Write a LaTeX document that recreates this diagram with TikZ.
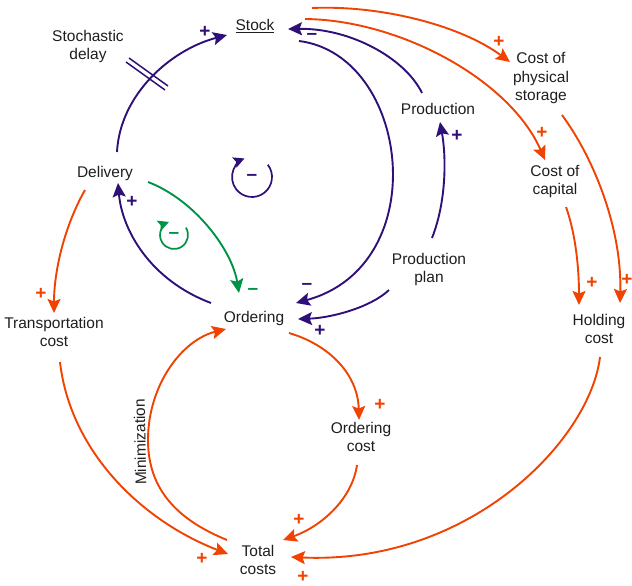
\documentclass[tikz,border=0pt]{standalone}
\usepackage{fontspec}
\setmainfont{Liberation Sans}
\usetikzlibrary{arrows.meta,calc}
\definecolor{pur}{RGB}{46,16,120}
\definecolor{org}{RGB}{240,66,0}
\definecolor{grn}{RGB}{0,146,69}
\definecolor{txt}{RGB}{30,30,30}
\begin{document}
\begin{tikzpicture}[x=1pt,y=-1pt,
  lbl/.style={font=\fontsize{15.5}{18}\selectfont, align=center, text=txt, inner sep=0pt},
  sgn/.style={font=\fontsize{19}{19}\selectfont\bfseries, inner sep=0pt},
  conn/.style={line width=1.9pt, -{Stealth[length=14pt,width=13pt,inset=2.5pt]}},
  pconn/.style={conn, pur},
  oconn/.style={conn, org},
  gconn/.style={conn, grn},
  loopar/.style={line width=1.7pt, -{Stealth[length=11pt,width=11pt,inset=2pt]}}
]
\useasboundingbox (0,0) rectangle (632,586);

% nodes
\node[lbl] (stock) at (255,26) {\underline{Stock}};
\node[lbl] (delay) at (88,46) {Stochastic\\delay};
\node[lbl] (delivery) at (105,173) {Delivery};
\node[lbl] (production) at (438,109) {Production};
\node[lbl] (plan) at (429,269) {Production\\plan};
\node[lbl] (ordering) at (254,318) {Ordering};
\node[lbl] (transport) at (54,332) {Transportation\\cost};
\node[lbl] (storage) at (541,78) {Cost of\\physical\\storage};
\node[lbl] (capital) at (555,181) {Cost of\\capital};
\node[lbl] (holding) at (599,329) {Holding\\cost};
\node[lbl] (ocost) at (361,437) {Ordering\\cost};
\node[lbl] (total) at (258,560) {Total\\costs};
\node[lbl, rotate=91] (minim) at (140,442) {Minimization};

% purple connectors
\draw[pconn] ($(delivery)+(12,-21)$) .. controls (120,95) and (170,50) .. ($(stock)+(-28,9)$);
\draw[pur, line width=1.5pt] (129,58) -- (168,86);
\draw[pur, line width=1.5pt] (126,62) -- (165,90);
\draw[pconn] ($(production)+(-16,-16)$) .. controls (405,58) and (350,28) .. ($(stock)+(33,3)$);
\draw[pconn] ($(stock)+(44,15)$) .. controls (410,55) and (435,265) .. ($(ordering)+(42,-15)$);
\draw[pconn] ($(plan)+(3,-31)$) .. controls (447,200) and (446,155) .. ($(production)+(2,13)$);
\draw[pconn] ($(plan)+(-40,21)$) .. controls (370,308) and (330,318) .. ($(ordering)+(44,1)$);
\draw[pconn] ($(ordering)+(-43,-15)$) .. controls (150,280) and (122,230) .. ($(delivery)+(13,10)$);

% green connector
\draw[gconn] ($(delivery)+(43,9)$) .. controls (195,200) and (232,250) .. ($(ordering)+(-15,-25)$);

% orange connectors
\draw[oconn] ($(stock)+(57,-18)$) .. controls (380,5) and (460,25) .. ($(storage)+(-31,-16)$);
\draw[oconn] ($(stock)+(50,-7)$) .. controls (400,20) and (510,80) .. ($(capital)+(-10,-21)$);
\draw[oconn] ($(storage)+(21,37)$) .. controls (595,160) and (622,230) .. ($(holding)+(21,-26)$);
\draw[oconn] ($(capital)+(11,26)$) .. controls (576,235) and (579,270) .. ($(holding)+(-20,-24)$);
\draw[oconn] ($(delivery)+(-20,17)$) .. controls (65,225) and (54,270) .. ($(transport)+(0,-19)$);
\draw[oconn] ($(transport)+(6,30)$) .. controls (70,450) and (140,520) .. ($(total)+(-30,-6)$);
\draw[oconn] ($(ordering)+(35,15)$) .. controls (330,345) and (358,375) .. ($(ocost)+(-2,-17)$);
\draw[oconn] ($(ocost)+(-4,28)$) .. controls (352,500) and (320,527) .. ($(total)+(25,-20)$);
\draw[oconn] ($(holding)+(1,28)$) .. controls (590,440) and (470,565) .. ($(total)+(33,-3)$);
\draw[oconn] ($(total)+(-31,-20)$) .. controls (178,520) and (148,490) .. (148,440)
   .. controls (148,385) and (182,340) .. ($(ordering)+(-28,11)$);

% loop markers
\node[sgn, pur] (ploop) at (252,177) {--};
\draw[loopar, pur] ($(ploop)+(-38:20)$) arc[start angle=-38, end angle=248, radius=20];
\node[sgn, grn] (gloop) at (174,235) {--};
\draw[loopar, grn] ($(gloop)+(-32:14)$) arc[start angle=-32, end angle=249, radius=14];

% polarity signs
\node[sgn, pur] (s1) at (205,32) {+};
\node[sgn, pur] (s2) at (312,36) {--};
\node[sgn, pur] (s3) at (307,286) {--};
\node[sgn, pur] (s4) at (457,136) {+};
\node[sgn, pur] (s5) at (320,331) {+};
\node[sgn, pur] (s6) at (132,202) {+};
\node[sgn, grn] (s7) at (253,291) {--};
\node[sgn, org] (s8) at (499,42) {+};
\node[sgn, org] (s9) at (542,133) {+};
\node[sgn, org] (s10) at (627,280) {+};
\node[sgn, org] (s11) at (592,283) {+};
\node[sgn, org] (s12) at (41,294) {+};
\node[sgn, org] (s13) at (202,559) {+};
\node[sgn, org] (s14) at (380,405) {+};
\node[sgn, org] (s15) at (299,520) {+};
\node[sgn, org] (s16) at (303,577) {+};
\end{tikzpicture}
\end{document}
